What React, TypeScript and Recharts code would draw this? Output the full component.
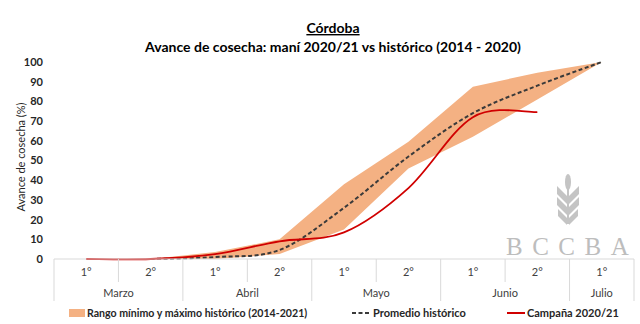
import { Area, ComposedChart, Line, XAxis, YAxis } from "recharts";

const weeks = ["1°", "2°", "1°", "2°", "1°", "2°", "1°", "2°", "1°"];
const months = ["Marzo", "Marzo", "Abril", "Abril", "Mayo", "Mayo", "Junio", "Junio", "Julio"];
const rangeMin = [0, 0, 0, 2.5, 15, 46, 62, 81, 100];
const rangeMax = [0, 0, 3.5, 10, 38, 59.5, 87.5, 94.5, 100];
const promedio = [null, 0, 1, 4.6, 26, 52, 74, 88, 100];
const campana = [0, 0, 2.5, 9, 13.5, 36, 72, 74.6, null];
const yTicks = [0, 10, 20, 30, 40, 50, 60, 70, 80, 90, 100];

const data = weeks.map((w, i) => ({
  key: `${months[i]}-${w}`,
  week: w,
  month: months[i],
  rango: [rangeMin[i], rangeMax[i]],
  promedio: promedio[i],
  campana: campana[i],
}));

// excel-like smoothed line (catmull-rom)
const smoothCurve = (context: any) => {
  let xs: number[] = [];
  let ys: number[] = [];
  return {
    areaStart() {},
    areaEnd() {},
    lineStart() {
      xs = [];
      ys = [];
    },
    lineEnd() {
      const n = xs.length;
      if (!n) return;
      context.moveTo(xs[0], ys[0]);
      for (let i = 0; i < n - 1; i++) {
        const a = Math.max(i - 1, 0);
        const d = Math.min(i + 2, n - 1);
        context.bezierCurveTo(
          xs[i] + (xs[i + 1] - xs[a]) / 6,
          ys[i] + (ys[i + 1] - ys[a]) / 6,
          xs[i + 1] - (xs[d] - xs[i]) / 6,
          ys[i + 1] - (ys[d] - ys[i]) / 6,
          xs[i + 1],
          ys[i + 1]
        );
      }
    },
    point(x: number, y: number) {
      xs.push(+x);
      ys.push(+y);
    },
  };
};

const GRID = "#d9d9d9";
const HALF = 580 / weeks.length / 2;

const AxisTick = (props: any) => {
  const { x, y, index } = props;
  const monthStart = index === 0 || months[index] !== months[index - 1];
  const last = index === months.length - 1;
  let span = 0;
  while (monthStart && months[index + span] === months[index]) span++;
  return (
    <g>
      <line x1={x - HALF} x2={x - HALF} y1={y} y2={y + (monthStart ? 42 : 23)} stroke={GRID} />
      {last && <line x1={x + HALF} x2={x + HALF} y1={y} y2={y + 42} stroke={GRID} />}
      <text x={x} y={y + 17} textAnchor="middle" fontSize={11} fill="#404040">
        {weeks[index]}
      </text>
      {monthStart && (
        <text x={x + (span - 1) * HALF} y={y + 38} textAnchor="middle" fontSize={11} fill="#404040">
          {months[index]}
        </text>
      )}
    </g>
  );
};

export default function App() {
  return (
    <div style={{ position: "relative", width: 640, height: 324, fontFamily: "Lato, 'Noto Sans', sans-serif" }}>
      <style>{`body{margin:0}`}</style>
      <ComposedChart width={640} height={324} data={data} margin={{ top: 62, right: 6, left: 10, bottom: 17 }}>
        <XAxis
          dataKey="key"
          interval={0}
          height={48}
          padding={{ left: HALF, right: HALF }}
          tickLine={false}
          tickSize={0}
          tickMargin={0}
          axisLine={{ stroke: GRID }}
          tick={(p: any) => <AxisTick {...p} />}
        />
        <YAxis
          domain={[0, 100]}
          ticks={yTicks}
          width={44}
          axisLine={false}
          tickLine={false}
          tickSize={0}
          tickMargin={11}
          tick={{ fontSize: 11, fontWeight: 700, fill: "#262626" }}
        />
        <Area
          dataKey="rango"
          type="linear"
          fill="#F4B183"
          fillOpacity={1}
          stroke="none"
          isAnimationActive={false}
        />
        <Line
          dataKey="promedio"
          type={smoothCurve as any}
          stroke="#3a3a3a"
          strokeWidth={2}
          strokeDasharray="4 2.5"
          dot={false}
          isAnimationActive={false}
        />
        <Line
          dataKey="campana"
          type={smoothCurve as any}
          stroke="#D00000"
          strokeWidth={1.8}
          dot={false}
          isAnimationActive={false}
        />
      </ComposedChart>
      <svg width={640} height={324} style={{ position: "absolute", left: 0, top: 0, pointerEvents: "none" }}>
        <text x={333} y={33} textAnchor="middle" fontSize={14} fontWeight={700} fill="#000" textDecoration="underline">
          Córdoba
        </text>
        <text x={333} y={52} textAnchor="middle" fontSize={14} fontWeight={700} fill="#000">
          Avance de cosecha: maní 2020/21 vs histórico (2014 - 2020)
        </text>
        <text
          x={20}
          y={157}
          transform="rotate(-90 20 157)"
          textAnchor="middle"
          dominantBaseline="central"
          fontSize={11}
          fill="#262626"
        >
          Avance de cosecha (%)
        </text>
        {/* watermark */}
        <g fill="#c4c4c4">
          <rect x={567} y={178} width={2} height={46} />
          <ellipse cx={568} cy={182} rx={3} ry={8} />
          <path d="M567 196 L557 186 L557 194 L567 204 Z" />
          <path d="M569 196 L579 186 L579 194 L569 204 Z" />
          <path d="M567 207 L557 197 L557 205 L567 215 Z" />
          <path d="M569 207 L579 197 L579 205 L569 215 Z" />
          <path d="M567 218 L558 209 L558 216 L567 225 Z" />
          <path d="M569 218 L578 209 L578 216 L569 225 Z" />
        </g>
        <text x={506} y={255} fontFamily="'Liberation Serif', serif" fontSize={25} letterSpacing={9.5} fill="#bdbdbd">
          BCCBA
        </text>
        {/* legend */}
        <rect x={69} y={309} width={16} height={8} fill="#F4B183" />
        <text x={87} y={317} fontSize={10.6} fontWeight={700} fill="#262626">
          Rango mínimo y máximo histórico (2014-2021)
        </text>
        <line x1={352} x2={370} y1={313} y2={313} stroke="#3a3a3a" strokeWidth={2} strokeDasharray="4 2.5" />
        <text x={373} y={317} fontSize={11} fontWeight={700} fill="#262626">
          Promedio histórico
        </text>
        <line x1={507} x2={525} y1={313} y2={313} stroke="#D00000" strokeWidth={2} />
        <text x={527} y={317} fontSize={11} fontWeight={700} fill="#262626">
          Campaña 2020/21
        </text>
      </svg>
    </div>
  );
}
